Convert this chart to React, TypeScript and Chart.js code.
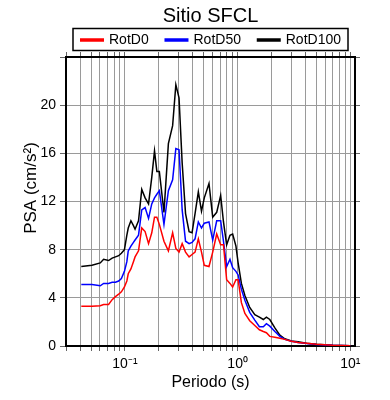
import React, { useEffect, useRef } from 'react';
import { Chart, registerables } from 'chart.js';

Chart.register(...registerables);

const TITLE = 'Sitio SFCL';
const X_TITLE = 'Periodo (s)';
const Y_TITLE = 'PSA (cm/s²)';
const SERIES_LABELS = ['RotD0', 'RotD50', 'RotD100'];
const SERIES_COLORS = ['#ff0000', '#0000ff', '#000000'];

const PERIODS = [
  0.041, 0.051, 0.0604, 0.0647, 0.0716, 0.077, 0.0824, 0.088, 0.093, 0.099,
  0.104, 0.107, 0.113, 0.119, 0.123, 0.132, 0.141, 0.151, 0.162, 0.173,
  0.183, 0.192, 0.202, 0.222, 0.243, 0.265, 0.283, 0.302, 0.322, 0.345,
  0.371, 0.394, 0.419, 0.448, 0.478, 0.506, 0.557, 0.601, 0.652, 0.707,
  0.749, 0.799, 0.855, 0.903, 0.966, 1.01, 1.08, 1.16, 1.28, 1.42,
  1.56, 1.69, 1.8, 1.93, 2.14, 2.37, 2.62, 3.0, 3.43, 4.08,
  5.0, 7.0, 10.0,
];

const ROTD0 = [
  3.3, 3.3, 3.35, 3.45, 3.45, 3.85, 4.1, 4.3, 4.5, 4.9,
  5.4, 6.0, 6.4, 7.0, 7.4, 7.9, 9.8, 9.5, 8.5, 9.4,
  10.7, 10.7, 10.1, 8.7, 7.9, 9.4, 8.1, 7.8, 8.5, 7.8,
  7.4, 7.6, 7.8, 8.9, 7.8, 6.7, 6.6, 7.8, 9.3, 8.4,
  8.4, 5.5, 5.2, 4.9, 5.5, 5.5, 3.6, 2.7, 2.1, 1.7,
  1.35, 1.2, 1.1, 0.8, 0.72, 0.65, 0.55, 0.4, 0.3, 0.22,
  0.14, 0.07, 0.03,
];

const ROTD50 = [
  5.1, 5.1, 5.0, 5.2, 5.2, 5.3, 5.3, 5.4, 5.6, 6.2,
  7.0, 7.9, 8.3, 8.6, 8.8, 9.2, 11.3, 11.5, 10.6, 11.8,
  12.3, 12.6, 12.9, 10.1, 12.9, 13.8, 16.4, 16.3, 11.3, 8.7,
  8.5, 8.6, 8.9, 10.3, 9.8, 10.2, 10.3, 8.8, 10.4, 10.4,
  8.7, 6.6, 7.2, 6.5, 6.2, 5.9, 4.7, 3.8, 2.8, 2.15,
  1.6, 1.6, 1.85, 1.65, 1.2, 0.8, 0.55, 0.4, 0.3, 0.2,
  0.13, 0.06, 0.03,
];

const ROTD100 = [
  6.6, 6.7, 6.9, 7.2, 7.1, 7.3, 7.4, 7.5, 7.7, 8.0,
  9.2, 9.8, 10.4, 10.0, 9.7, 10.4, 13.0, 12.3, 11.8, 14.0,
  16.2, 14.5, 14.5, 11.1, 16.8, 18.3, 21.7, 20.6, 15.2, 11.0,
  9.5, 9.4, 11.0, 12.8, 11.2, 12.3, 13.5, 10.7, 11.1, 12.5,
  10.3, 8.4, 9.2, 9.3, 8.3, 6.9, 5.2, 4.2, 3.2, 2.6,
  2.4, 2.2, 2.4, 2.2, 1.5, 0.9, 0.6, 0.42, 0.36, 0.22,
  0.14, 0.07, 0.03,
];

const SERIES_VALUES = [ROTD0, ROTD50, ROTD100];

const X_MIN = 0.03;
const X_MAX = 11;
const X_TICKS = [
  0.03, 0.04, 0.05, 0.06, 0.07, 0.08, 0.09,
  0.1, 0.2, 0.3, 0.4, 0.5, 0.6, 0.7, 0.8, 0.9,
  1, 2, 3, 4, 5, 6, 7, 8, 9, 10,
];
const X_MAJOR = [0.1, 1, 10];
const X_MAJOR_LABELS = ['10⁻¹', '10⁰', '10¹'];

const Y_MIN = 0;
const Y_MAX = 24;
const Y_TICKS = [0, 4, 8, 12, 16, 20, 24];
const Y_TICK_LABELS = ['0', '4', '8', '12', '16', '20', ''];

const FONT = '"Liberation Sans", Arial, Helvetica, sans-serif';
const GRID = '#9a9a9a';
const TICK = '#666666';

function xLabel(v: number): string {
  for (let i = 0; i < X_MAJOR.length; i++) {
    if (Math.abs(v - X_MAJOR[i]) < 1e-9 * X_MAJOR[i] + 1e-12) return X_MAJOR_LABELS[i];
  }
  return '';
}

function yLabel(v: number): string {
  const i = Y_TICKS.indexOf(v);
  return i >= 0 ? Y_TICK_LABELS[i] : '';
}

const overlayPlugin = {
  id: 'overlay',
  afterDraw(chart: any) {
    const { ctx, chartArea: ca } = chart;
    const cx = (ca.left + ca.right) / 2;
    ctx.save();
    // title
    ctx.fillStyle = '#000';
    ctx.font = `20px ${FONT}`;
    ctx.textAlign = 'center';
    ctx.textBaseline = 'alphabetic';
    ctx.fillText(TITLE, cx, 22);

    // legend box
    const boxW = 275;
    const boxL = cx - boxW / 2;
    const boxT = 28.5;
    const boxH = 22;
    ctx.lineWidth = 1.5;
    ctx.strokeStyle = '#000';
    ctx.strokeRect(boxL, boxT, boxW, boxH);

    ctx.font = `14px ${FONT}`;
    ctx.textAlign = 'left';
    const lineLen = 24;
    const gap = 5;
    const pad = 7;
    const widths = SERIES_LABELS.map((s) => ctx.measureText(s).width);
    const itemsW = widths.reduce((a: number, w: number) => a + w + lineLen + gap, 0);
    const spacing = (boxW - 2 * pad - itemsW) / (SERIES_LABELS.length - 1);
    let x = boxL + pad;
    const lineY = 40;
    for (let i = 0; i < SERIES_LABELS.length; i++) {
      ctx.strokeStyle = SERIES_COLORS[i];
      ctx.lineWidth = 3.5;
      ctx.beginPath();
      ctx.moveTo(x, lineY);
      ctx.lineTo(x + lineLen, lineY);
      ctx.stroke();
      ctx.fillStyle = '#000';
      ctx.fillText(SERIES_LABELS[i], x + lineLen + gap, 44);
      x += lineLen + gap + widths[i] + spacing;
    }

    // y axis title
    ctx.font = `17px ${FONT}`;
    ctx.textAlign = 'center';
    ctx.textBaseline = 'alphabetic';
    ctx.translate(36, 188);
    ctx.rotate(-Math.PI / 2);
    ctx.fillStyle = '#000';
    ctx.fillText(Y_TITLE, 0, 0);
    ctx.restore();
  },
};

export default function App() {
  const ref = useRef<HTMLCanvasElement | null>(null);

  useEffect(() => {
    if (!ref.current) return;
    const datasets = SERIES_LABELS.map((label, i) => ({
      label,
      data: PERIODS.map((p, j) => ({ x: p, y: SERIES_VALUES[i][j] })),
      borderColor: SERIES_COLORS[i],
      backgroundColor: SERIES_COLORS[i],
      borderWidth: 1.5,
      pointRadius: 0,
      tension: 0,
      fill: false,
      xAxisID: 'x',
      yAxisID: 'y',
    }));

    const setXTicks = (scale: any) => {
      scale.ticks = X_TICKS.map((v) => ({ value: v, major: X_MAJOR.includes(v) }));
    };
    const setYTicks = (scale: any) => {
      scale.ticks = Y_TICKS.map((v) => ({ value: v }));
    };

    const chart = new Chart(ref.current, {
      type: 'line',
      data: { datasets },
      options: {
        animation: false,
        responsive: false,
        devicePixelRatio: 1,
        layout: { padding: 0 },
        plugins: {
          legend: { display: false },
          title: { display: false },
          tooltip: { enabled: false },
        },
        scales: {
          x: {
            type: 'logarithmic',
            position: 'bottom',
            min: X_MIN,
            max: X_MAX,
            afterBuildTicks: setXTicks,
            afterFit: (s: any) => { s.height = 54; },
            border: { display: true, color: '#000', width: 2 },
            grid: { color: GRID, lineWidth: 1, drawTicks: true, tickLength: 5, tickColor: TICK },
            ticks: {
              autoSkip: false,
              maxRotation: 0,
              minRotation: 0,
              padding: 5,
              color: '#000',
              font: { family: FONT, size: 14 },
              callback: (v: any) => xLabel(Number(v)),
            },
            title: {
              display: true,
              text: X_TITLE,
              color: '#000',
              font: { family: FONT, size: 16 },
              padding: { top: 0, bottom: 8 },
            },
          },
          x2: {
            type: 'logarithmic',
            position: 'top',
            min: X_MIN,
            max: X_MAX,
            afterBuildTicks: setXTicks,
            afterFit: (s: any) => { s.height = 57; },
            border: { display: true, color: '#000', width: 2 },
            grid: { drawOnChartArea: false, drawTicks: true, tickLength: 5, tickColor: TICK },
            ticks: { display: false, autoSkip: false },
          },
          y: {
            type: 'linear',
            position: 'left',
            min: Y_MIN,
            max: Y_MAX,
            afterBuildTicks: setYTicks,
            afterFit: (s: any) => { s.width = 66; },
            border: { display: true, color: '#000', width: 2 },
            grid: { color: GRID, lineWidth: 1, drawTicks: true, tickLength: 6, tickColor: TICK },
            ticks: {
              autoSkip: false,
              padding: 4,
              color: '#000',
              font: { family: FONT, size: 14 },
              callback: (v: any) => yLabel(Number(v)),
            },
          },
          y2: {
            type: 'linear',
            position: 'right',
            min: Y_MIN,
            max: Y_MAX,
            afterBuildTicks: setYTicks,
            afterFit: (s: any) => { s.width = 35; },
            border: { display: true, color: '#000', width: 2 },
            grid: { drawOnChartArea: false, drawTicks: true, tickLength: 5, tickColor: TICK },
            ticks: { display: false },
          },
        },
      },
      plugins: [overlayPlugin],
    } as any);

    return () => chart.destroy();
  }, []);

  return (
    <div style={{ position: 'absolute', left: 0, top: 0, width: 390, height: 400, background: '#fff' }}>
      <canvas ref={ref} width={390} height={400} style={{ width: 390, height: 400, display: 'block' }} />
    </div>
  );
}
